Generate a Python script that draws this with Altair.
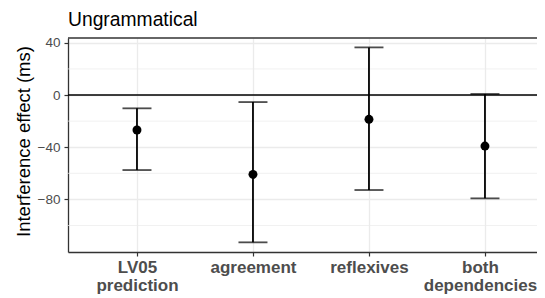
import altair as alt
import pandas as pd

categories = ["LV05 prediction", "agreement", "reflexives", "both dependencies"]
estimate = [-26.8, -60.8, -18.6, -39.1]
lower = [-57.5, -112.9, -72.8, -79.2]
upper = [-10.2, -5.4, 36.5, 0.8]
major_ticks = [40, 0, -40, -80]
minor_ticks = [20, -20, -60, -100]

df = pd.DataFrame({"cat": categories, "est": estimate, "lo": lower, "hi": upper})
minor_df = pd.DataFrame({"y": minor_ticks})
zero_df = pd.DataFrame({"y": [0]})

FONT = "Liberation Sans"
BORDER = "#333333"
ydom = [-120.3, 43.7]

xenc = alt.X(
    "cat:N",
    sort=categories,
    scale=alt.Scale(type="point", padding=0.5216, align=0.570),
    axis=alt.Axis(
        title=None,
        labelExpr="split(datum.label, ' ')",
        labelFontWeight="bold",
        labelFontSize=17,
        labelLineHeight=18.5,
        labelColor="#4d4d4d",
        labelPadding=3,
        labelAngle=0,
        labelOffset={"condition": {"test": "datum.value == 'both dependencies'", "value": -5}, "value": 0},
        grid=True,
        gridColor="#ebebeb",
        gridWidth=1.3,
        domain=True,
        domainColor=BORDER,
        domainWidth=1.3,
    ),
)
yscale = alt.Scale(domain=ydom, nice=False, zero=False)
yaxis = alt.Axis(
    values=major_ticks,
    title="Interference effect (ms)",
    titleFontSize=18.5,
    titleFontWeight="normal",
    titleColor="black",
    titleAngle=270,
    titleAlign="center",
    titleBaseline="alphabetic",
    titleX=-39,
    titleY=103,
    labelFontSize=13.5,
    labelColor="#4d4d4d",
    labelPadding=4,
    grid=True,
    gridColor="#ebebeb",
    gridWidth=1.3,
    domain=True,
    domainColor=BORDER,
    domainWidth=1.3,
)

minor = alt.Chart(minor_df).mark_rule(color="#ebebeb", strokeWidth=0.7).encode(
    y=alt.Y("y:Q", scale=yscale, axis=yaxis)
)
top_border = alt.Chart(zero_df).mark_rule(color=BORDER, strokeWidth=1.3).encode(
    y=alt.value(0)
)
zero = alt.Chart(zero_df).mark_rule(color="black", strokeWidth=1.5).encode(
    y=alt.Y("y:Q", scale=yscale, axis=yaxis)
)
bars = alt.Chart(df).mark_rule(color="black", strokeWidth=1.8).encode(
    x=xenc, y=alt.Y("lo:Q", scale=yscale, axis=yaxis), y2="hi:Q"
)
cap_lo = alt.Chart(df).mark_tick(color="black", size=29, thickness=1.8, orient="horizontal").encode(
    x=xenc, y=alt.Y("lo:Q", scale=yscale, axis=yaxis)
)
cap_hi = alt.Chart(df).mark_tick(color="black", size=29, thickness=1.8, orient="horizontal").encode(
    x=xenc, y=alt.Y("hi:Q", scale=yscale, axis=yaxis)
)
pts = alt.Chart(df).mark_point(filled=True, color="black", size=80, opacity=1).encode(
    x=xenc, y=alt.Y("est:Q", scale=yscale, axis=yaxis)
)

chart = (
    alt.layer(minor, top_border, zero, bars, cap_lo, cap_hi, pts)
    .properties(
        width=469,
        height=214,
        autosize=alt.AutoSizeParams(type="none"),
        padding={"left": 60, "top": 30, "right": 0, "bottom": 44},
        title=alt.TitleParams(
            "Ungrammatical",
            anchor="start",
            frame="group",
            fontSize=19.3,
            font=FONT,
            fontWeight="normal",
            color="black",
            offset=6,
        ),
    )
    .configure_view(stroke=None)
    .configure_axis(
        labelFont=FONT,
        titleFont=FONT,
        tickColor=BORDER,
        tickWidth=1.2,
        tickSize=4,
    )
)

chart.save("out.html", embed_options={"renderer": "svg", "actions": False})
